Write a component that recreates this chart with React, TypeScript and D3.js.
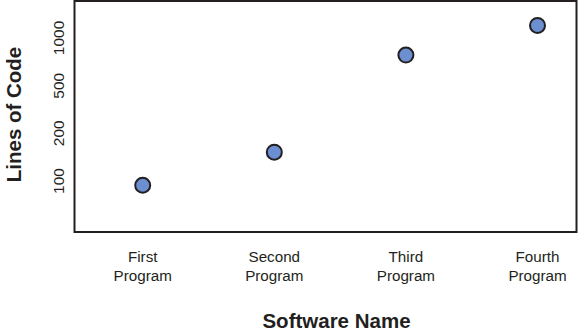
import React from "react";
import * as d3 from "d3";

const programs = ["First Program", "Second Program", "Third Program", "Fourth Program"];
const linesOfCode = [94, 152, 780, 1200];
const yTicks = [100, 200, 500, 1000];

const W = 579;
const H = 332;
const box = { left: 74.5, right: 576.5, top: 1, bottom: 232 };

export default function App() {
  const x = d3.scalePoint<string>().domain(programs).range([142.7, 537.5]);
  const y = d3
    .scaleLog()
    .domain(yTicks)
    .range([181, 133.3, 85.7, 38]);
  const font = "'Liberation Sans', Arial, Helvetica, sans-serif";
  return (
    <svg
      width={W}
      height={H}
      style={{ position: "absolute", left: 0, top: 0, background: "#fff" }}
      fontFamily={font}
    >
      <rect
        x={box.left}
        y={box.top}
        width={box.right - box.left}
        height={box.bottom - box.top}
        fill="none"
        stroke="#231f20"
        strokeWidth={2}
      />
      {yTicks.map((t) => (
        <text
          key={t}
          transform={`translate(58.5,${y(t)}) rotate(-90)`}
          textAnchor="middle"
          dominantBaseline="central"
          fontSize={15.5}
          fill="#231f20"
        >
          {t}
        </text>
      ))}
      {programs.map((p) => {
        const [a, b] = p.split(" ");
        return (
          <text key={p} x={x(p)} textAnchor="middle" fontSize={15.2} fill="#231f20">
            <tspan x={x(p)} y={261.5}>{a}</tspan>
            <tspan x={x(p)} y={281}>{b}</tspan>
          </text>
        );
      })}
      {programs.map((p, i) => (
        <circle
          key={p}
          cx={x(p)}
          cy={y(linesOfCode[i])}
          r={7.5}
          fill="#6b8fd1"
          stroke="#231f20"
          strokeWidth={2}
        />
      ))}
      <text
        transform={`translate(20.5,114.5) rotate(-90)`}
        textAnchor="middle"
        fontSize={20.5}
        fontWeight="bold"
        fill="#231f20"
      >
        Lines of Code
      </text>
      <text x={336.5} y={327.5} textAnchor="middle" fontSize={20.5} fontWeight="bold" fill="#231f20">
        Software Name
      </text>
    </svg>
  );
}
